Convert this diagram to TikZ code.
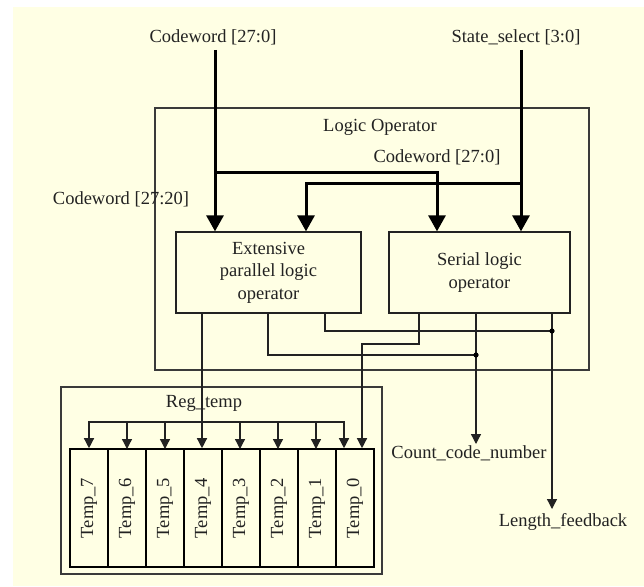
\documentclass[tikz,border=0pt]{standalone}
\usepackage{fontspec}
\setmainfont{Liberation Serif}
\usetikzlibrary{arrows.meta}
\definecolor{bgy}{HTML}{FFFFE4}
\definecolor{ln}{HTML}{222222}
\definecolor{frm}{HTML}{3A3A3A}
\begin{document}
\begin{tikzpicture}[x=1pt,y=-1pt,
  txt/.style={font=\fontsize{18.5}{22.5}\selectfont, inner sep=0pt, align=center, text=ln},
  blk/.style 2 args={draw=ln, line width=1.3pt, minimum width=#1, minimum height=#2, inner sep=0pt},
  frame/.style 2 args={draw=frm, line width=1.2pt, minimum width=#1, minimum height=#2, inner sep=0pt},
  tbox/.style={draw=black, line width=1.6pt, minimum width=38pt, minimum height=118pt, inner sep=0pt},
  thk/.style={draw=black, line width=3pt},
  thkarr/.style={thk, -{Triangle[width=17pt,length=16pt]}},
  thn/.style={draw=ln, line width=1.3pt},
  thnarr/.style={thn, -{Triangle[width=10pt,length=10pt]}},
  dot/.style={fill=black}]
\useasboundingbox (0,0) rectangle (644,586);
\fill[white] (0,0) rectangle (644,586);
\fill[bgy] (13,7) rectangle (644,586);

% frames
\node[frame={434pt}{262pt}] (lo) at (372,239) {};
\node[frame={321pt}{187pt}] (reg) at (221.5,480.5) {};

% texts
\node[txt] (cw) at (213,37) {Codeword [27:0]};
\node[txt] (ss) at (516,37) {State\_select [3:0]};
\node[txt] (lot) at (380,127) {Logic Operator};
\node[txt] (cwi) at (437,157) {Codeword [27:0]};
\node[txt] (cwl) at (121,199) {Codeword [27:20]};
\node[txt] (regt) at (204,403) {Reg\_temp};
\node[txt] (ccn) at (469,453) {Count\_code\_number};
\node[txt] (lfb) at (563,522) {Length\_feedback};

% operator blocks
\node[txt, blk={185pt}{81pt}] (ext) at (268.5,272.5) {Extensive\\parallel logic\\operator};
\node[txt, blk={181pt}{81pt}] (ser) at (479.5,272.5) {Serial logic\\operator};

% temp registers
\foreach \n/\x in {7/89,6/127,5/165,4/203,3/241,2/279,1/317,0/355}{
  \node[tbox] (t\n) at (\x,508) {};
  \node[txt, rotate=90] (tl\n) at (t\n) {Temp\_\n};
}

% coordinates
\coordinate (c1) at (215,50);
\coordinate (s1) at (521,50);
\coordinate (j1) at (215,172);
\coordinate (j2) at (437,172);
\coordinate (j3) at (521,183);
\coordinate (j4) at (306,183);

\coordinate (e1) at (202,313);
\coordinate (e2) at (268,313);
\coordinate (e3) at (325,313);
\coordinate (f1) at (419,313);
\coordinate (f2) at (476,313);
\coordinate (f3) at (552,313);
\coordinate (d1) at (476,355);
\coordinate (d2) at (552,331);
\coordinate (k1) at (419,344);
\coordinate (k2) at (362,344);
\coordinate (ccnin) at (476,444);
\coordinate (lfbin) at (552,509);

% thick buses
\draw[thkarr] (c1) -- (c1 |- ext.north);
\draw[thkarr] (s1) -- (s1 |- ser.north);
\draw[thkarr] (j1) -- (j2) -- (j2 |- ser.north);
\draw[thkarr] (j3) -- (j4) -- (j4 |- ext.north);

% thin signals
\draw[thnarr] (e1) -- (e1 |- t4.north);
\draw[thn] (e2) |- (d1);
\draw[thn] (e3) |- (d2);
\draw[thnarr] (f1) -- (k1) -- (k2) -- (k2 |- t0.north);
\draw[thnarr] (f2) -- (ccnin);
\draw[thnarr] (f3) -- (lfbin);
\fill[dot] (d1) circle (2.6pt);
\fill[dot] (d2) circle (2.6pt);

% register distribution
\coordinate (r1) at (89,422);
\coordinate (r2) at (344,422);
\draw[thn, {Triangle[width=10pt,length=10pt]}-{Triangle[width=10pt,length=10pt]}] (r1 |- t7.north) -- (r1) -- (r2) -- (r2 |- t0.north);
\foreach \x in {127,165,240,278,316}{
  \draw[thnarr] (\x,422) -- (\x,449);
}
\end{tikzpicture}
\end{document}
